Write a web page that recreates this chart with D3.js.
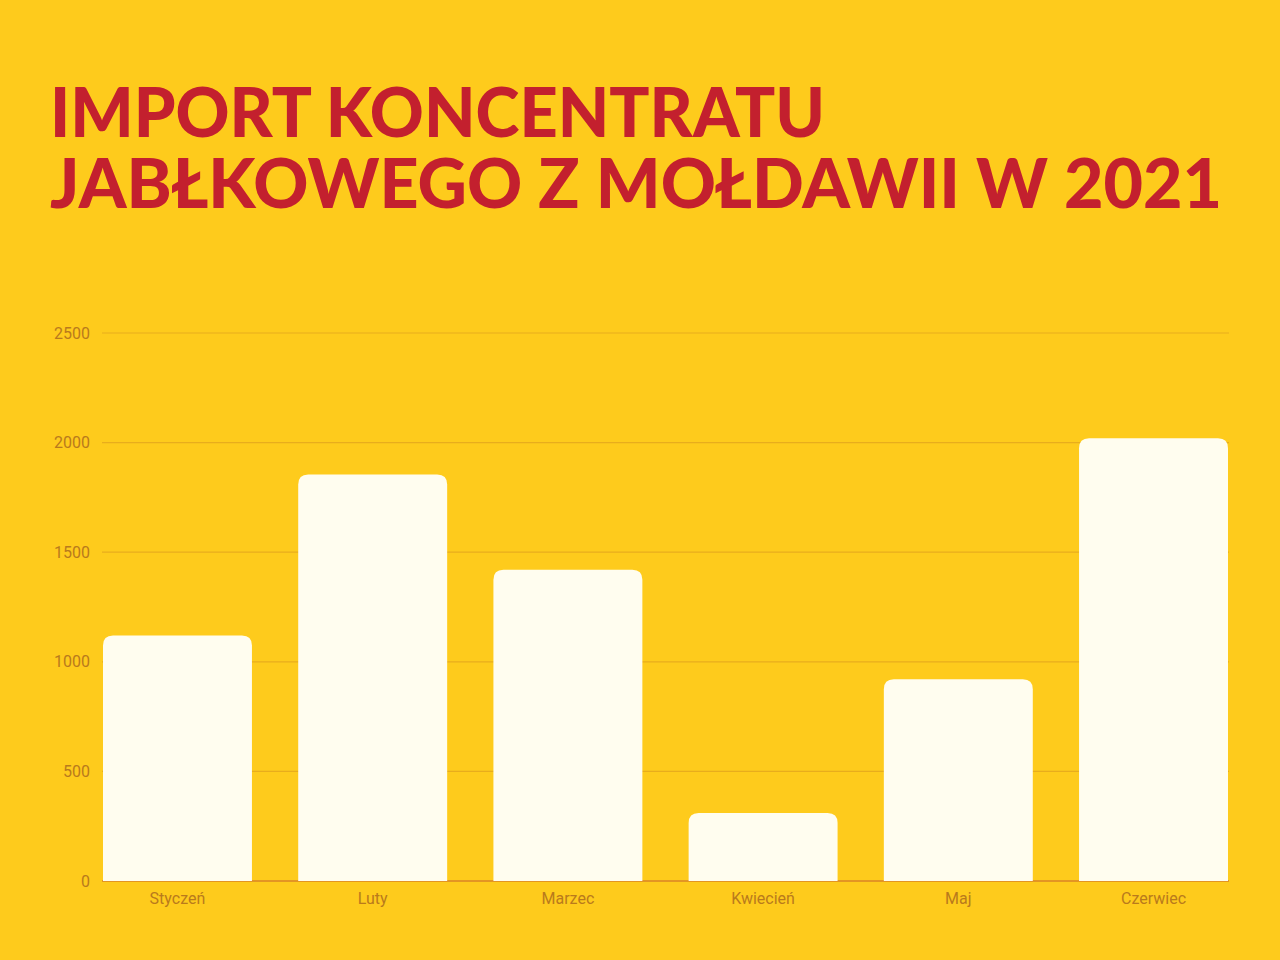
<!DOCTYPE html>
<html>
<head>
<meta charset="utf-8">
<script src="https://cdn.jsdelivr.net/npm/d3@7"></script>
<style>
  body { margin: 0; background: #fecb1c; }
  svg { display: block; }
</style>
</head>
<body>
<script>
const width = 1280;
const height = 960;

const months = ['Styczeń', 'Luty', 'Marzec', 'Kwiecień', 'Maj', 'Czerwiec'];
const values = [1120, 1855, 1420, 310, 920, 2020];
const yTicks = [0, 500, 1000, 1500, 2000, 2500];
const titleLines = ['IMPORT KONCENTRATU', 'JABŁKOWEGO Z MOŁDAWII W 2021'];
const titleWidths = [775, 1172];

const svg = d3.select('body')
  .append('svg')
  .attr('width', width)
  .attr('height', height);

svg.append('rect')
  .attr('width', width)
  .attr('height', height)
  .attr('fill', '#fecb1c');

// title, squeezed to the width it has in the original
svg.selectAll('text.title')
  .data(titleLines)
  .join('text')
  .attr('class', 'title')
  .attr('x', 50)
  .attr('y', (d, i) => 137 + i * 71)
  .attr('fill', '#c3202e')
  .attr('textLength', (d, i) => titleWidths[i])
  .attr('lengthAdjust', 'spacingAndGlyphs')
  .style('font-family', 'Lato, sans-serif')
  .style('font-weight', 900)
  .style('font-size', '68px')
  .text(d => d);

const x = d3.scaleBand()
  .domain(months)
  .range([103, 1228])
  .paddingInner(0.237)
  .paddingOuter(0);

const y = d3.scaleLinear()
  .domain([0, 2500])
  .range([881, 333]);

// gridlines
svg.append('g')
  .selectAll('line')
  .data(yTicks)
  .join('line')
  .attr('x1', 102)
  .attr('x2', 1229)
  .attr('y1', d => y(d))
  .attr('y2', d => y(d))
  .attr('stroke', d => d === 0 ? '#c8602a' : '#e8ad1c')
  .attr('stroke-width', 1.2);

// y tick labels
svg.append('g')
  .selectAll('text')
  .data(yTicks)
  .join('text')
  .attr('x', 90)
  .attr('y', d => y(d))
  .attr('dy', '0.35em')
  .attr('text-anchor', 'end')
  .attr('fill', '#b97a1c')
  .style('font-family', 'Roboto, sans-serif')
  .style('font-size', '16px')
  .text(d => d);

// bars with rounded top corners
const r = 10;
svg.append('g')
  .selectAll('path')
  .data(values)
  .join('path')
  .attr('fill', '#fffdef')
  .attr('d', (d, i) => {
    const x0 = x(months[i]);
    const x1 = x0 + x.bandwidth();
    const y0 = y(0);
    const yt = y(d);
    return `M${x0},${y0} V${yt + r} Q${x0},${yt} ${x0 + r},${yt} H${x1 - r} Q${x1},${yt} ${x1},${yt + r} V${y0} Z`;
  });

// category labels
svg.append('g')
  .selectAll('text')
  .data(months)
  .join('text')
  .attr('x', d => x(d) + x.bandwidth() / 2)
  .attr('y', 898)
  .attr('dy', '0.35em')
  .attr('text-anchor', 'middle')
  .attr('fill', '#b97a1c')
  .style('font-family', 'Roboto, sans-serif')
  .style('font-size', '16px')
  .text(d => d);
</script>
</body>
</html>
